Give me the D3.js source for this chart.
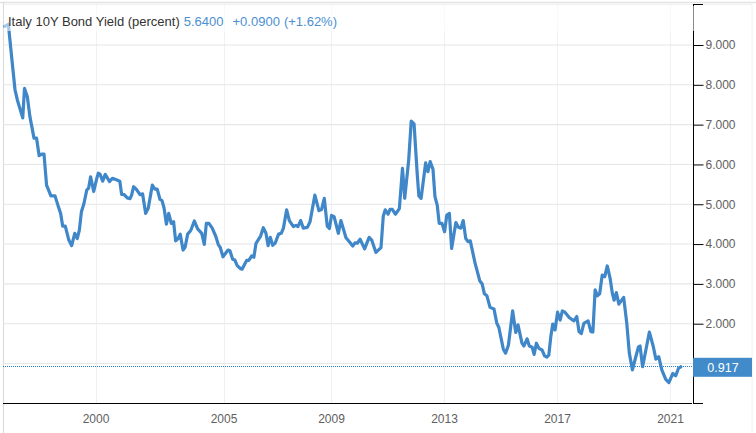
<!DOCTYPE html>
<html>
<head>
<meta charset="utf-8">
<script src="https://d3js.org/d3.v7.min.js"></script>
<style>
    html, body { margin: 0; padding: 0; background: #fff; }
    svg { display: block; font-family: "Liberation Sans", Arial, sans-serif; }
</style>
</head>
<body>
<div id="chart"></div>
<script>
const yearTicks = [2000, 2005, 2009, 2013, 2017, 2021]
const yieldTicks = [1, 2, 3, 4, 5, 6, 7, 8, 9]
const lastValue = 0.917

// the time axis is not even, so scale breaks sit on the labelled years
const xBreaks = [1996.39, 2000, 2005, 2009, 2013, 2017, 2021, 2021.81]
const xBreakPx = [3, 95.5, 223.5, 331, 444, 557, 670, 693]

const years = [
    1996.46, 1996.60, 1996.66, 1996.74, 1996.86, 1996.95, 1997.16, 1997.23, 1997.34, 1997.44, 1997.60, 1997.70, 1997.80, 1997.90, 1997.99,
    1998.09, 1998.26, 1998.42, 1998.55, 1998.64, 1998.72, 1998.82, 1998.96, 1999.07, 1999.19, 1999.29, 1999.37, 1999.45, 1999.55, 1999.66, 1999.73, 1999.81, 1999.93,
    2000.05, 2000.11, 2000.18, 2000.28, 2000.38, 2000.55, 2000.66, 2000.79, 2000.95,
    2001.02, 2001.12, 2001.24, 2001.35, 2001.41, 2001.49, 2001.59, 2001.74, 2001.84, 2001.96,
    2002.06, 2002.22, 2002.32, 2002.41, 2002.52, 2002.60, 2002.68, 2002.77, 2002.86, 2002.96,
    2003.05, 2003.13, 2003.23, 2003.31, 2003.42, 2003.50, 2003.60, 2003.72, 2003.86, 2003.99,
    2004.15, 2004.25, 2004.33, 2004.43, 2004.56, 2004.70, 2004.80, 2004.87, 2004.98,
    2005.17, 2005.24, 2005.34, 2005.42, 2005.51, 2005.64, 2005.69, 2005.86, 2005.94,
    2006.05, 2006.13, 2006.21, 2006.38, 2006.48, 2006.58, 2006.66, 2006.74, 2006.83, 2006.92,
    2007.05, 2007.15, 2007.23, 2007.35, 2007.45, 2007.60, 2007.70, 2007.77, 2007.87, 2007.97,
    2008.12, 2008.22, 2008.40, 2008.55, 2008.65, 2008.75, 2008.86, 2008.94,
    2009.02, 2009.11, 2009.26, 2009.35, 2009.53, 2009.65, 2009.77, 2009.85, 2009.93,
    2010.03, 2010.19, 2010.35, 2010.44, 2010.59, 2010.77, 2010.85, 2010.92,
    2011.02, 2011.09, 2011.17, 2011.28, 2011.42, 2011.53, 2011.61, 2011.75, 2011.84, 2011.94,
    2012.05, 2012.11, 2012.19, 2012.35, 2012.43, 2012.51, 2012.61, 2012.68, 2012.76, 2012.83, 2012.93,
    2013.02, 2013.10, 2013.19, 2013.27, 2013.42, 2013.51, 2013.60, 2013.68, 2013.77, 2013.85, 2013.93,
    2014.10, 2014.27, 2014.35, 2014.43, 2014.52, 2014.63, 2014.77, 2014.87, 2014.94,
    2015.10, 2015.18, 2015.28, 2015.43, 2015.54, 2015.62, 2015.76, 2015.83, 2015.94,
    2016.02, 2016.12, 2016.19, 2016.27, 2016.36, 2016.47, 2016.56, 2016.64, 2016.71, 2016.78, 2016.85, 2016.93,
    2017.02, 2017.11, 2017.19, 2017.28, 2017.44, 2017.60, 2017.70, 2017.78, 2017.86, 2017.95,
    2018.10, 2018.20, 2018.27, 2018.35, 2018.43, 2018.51, 2018.60, 2018.69, 2018.78, 2018.88, 2018.96,
    2019.02, 2019.10, 2019.19, 2019.36, 2019.47, 2019.56, 2019.67, 2019.79, 2019.88, 2019.94,
    2020.03, 2020.27, 2020.41, 2020.50, 2020.60, 2020.71, 2020.85, 2020.96,
    2021.10, 2021.20, 2021.30, 2021.38
]

const yields = [
    9.47, 9.52, 9.13, 8.62, 7.87, 7.62, 7.17, 7.91, 7.70, 7.20, 6.66, 6.66, 6.22, 6.26, 6.26,
    5.48, 5.21, 5.21, 4.94, 4.77, 4.45, 4.45, 4.10, 3.96, 4.27, 4.14, 4.35, 4.81, 5.02, 5.36, 5.40, 5.69, 5.32,
    5.65, 5.78, 5.75, 5.58, 5.75, 5.57, 5.65, 5.62, 5.58,
    5.25, 5.24, 5.16, 5.14, 5.23, 5.44, 5.38, 5.24, 5.26, 4.77,
    4.90, 5.48, 5.38, 5.38, 5.12, 5.09, 4.90, 4.50, 4.77, 4.52,
    4.56, 4.08, 4.14, 4.25, 3.85, 3.92, 4.25, 4.34, 4.58, 4.38,
    4.27, 3.99, 4.52, 4.52, 4.40, 4.19, 3.98, 3.92, 3.68,
    3.85, 3.83, 3.62, 3.60, 3.46, 3.38, 3.37, 3.59, 3.59,
    3.70, 3.67, 4.02, 4.20, 4.41, 4.27, 3.96, 4.17, 3.97, 4.02,
    4.25, 4.27, 4.40, 4.86, 4.59, 4.44, 4.47, 4.44, 4.59, 4.40,
    4.42, 4.56, 5.23, 4.84, 4.87, 5.15, 4.45, 4.39,
    4.72, 4.69, 4.27, 4.59, 4.16, 4.06, 3.95, 4.03, 4.02,
    4.12, 3.88, 4.17, 4.10, 3.79, 3.91, 4.70, 4.86,
    4.75, 4.87, 4.87, 4.75, 4.89, 5.90, 5.15, 6.11, 7.09, 7.02,
    5.78, 5.21, 5.15, 6.04, 5.82, 6.07, 5.88, 5.19, 4.98, 4.52, 4.52,
    4.31, 4.73, 4.77, 3.89, 4.54, 4.42, 4.40, 4.59, 4.14, 4.06, 4.08,
    3.52, 3.07, 3.00, 2.75, 2.70, 2.41, 2.37, 2.01, 1.91,
    1.36, 1.26, 1.46, 2.32, 1.78, 1.97, 1.51, 1.44, 1.62,
    1.44, 1.41, 1.23, 1.51, 1.38, 1.34, 1.19, 1.16, 1.21, 1.67, 1.99, 1.84,
    2.29, 2.09, 2.32, 2.29, 2.15, 2.07, 2.18, 1.80, 1.75, 2.01,
    2.07, 1.80, 1.79, 2.85, 2.70, 2.75, 3.22, 3.18, 3.45, 3.14, 2.76,
    2.59, 2.78, 2.49, 2.66, 2.01, 1.26, 0.84, 1.17, 1.41, 1.44,
    0.92, 1.79, 1.42, 1.11, 1.17, 0.84, 0.60, 0.52,
    0.75, 0.69, 0.88, 0.917
]

const w = 756;
const h = 433;
const left = 3;
const right = 693;
const top_ = 4.5;
const bottom = 403.5;

const blue = '#3f87c9';
const labelGrey = '#606060';

const svg = d3.select('#chart')
              .append('svg')
              .attr('width', w)
              .attr('height', h);

const xScale = d3.scaleLinear()
                 .domain(xBreaks)
                 .range(xBreakPx);

// 9 sits at 45 and 1 at 363.5
const yScale = d3.scaleLinear()
                 .domain([1, 9])
                 .range([363.5, 45]);

// frame
svg.append('line').attr('x1', 0).attr('x2', w).attr('y1', 2.5).attr('y2', 2.5).attr('stroke', '#e2e2e2').attr('stroke-width', 1.5);
svg.append('line').attr('x1', left).attr('x2', w - 4).attr('y1', top_).attr('y2', top_).attr('stroke', '#f0f0f0');
svg.append('line').attr('x1', left + .5).attr('x2', left + .5).attr('y1', 2).attr('y2', h).attr('stroke', '#dcdcdc').attr('stroke-width', 1.2);
svg.append('line').attr('x1', w - 4).attr('x2', w - 4).attr('y1', 2).attr('y2', h).attr('stroke', '#f0f0f0');

// gridlines
svg.append('g')
   .selectAll('line')
   .data(yearTicks)
   .enter()
   .append('line')
   .attr('x1', d => Math.round(xScale(d)) + .5)
   .attr('x2', d => Math.round(xScale(d)) + .5)
   .attr('y1', top_)
   .attr('y2', bottom)
   .attr('stroke', '#eef1f5');

svg.append('g')
   .selectAll('line')
   .data(yieldTicks)
   .enter()
   .append('line')
   .attr('x1', left)
   .attr('x2', right)
   .attr('y1', d => yScale(d))
   .attr('y2', d => yScale(d))
   .attr('stroke', '#e6e6e6')
   .attr('stroke-width', 1.1);

// last value marker, snapped so the dots stay crisp
const lastY = Math.round(yScale(lastValue)) - .5;

svg.append('line')
   .attr('x1', left)
   .attr('x2', right)
   .attr('y1', lastY)
   .attr('y2', lastY)
   .attr('stroke', '#2a80cc')
   .attr('stroke-dasharray', '1 1');

const line = d3.line()
               .x((d, i) => xScale(years[i]))
               .y(d => yScale(d))
               .curve(d3.curveLinear);

svg.append('path')
   .datum(yields)
   .attr('d', line)
   .attr('fill', 'none')
   .attr('stroke', blue)
   .attr('stroke-width', 3.2)
   .attr('stroke-linejoin', 'round')
   .attr('stroke-linecap', 'round');

// axes
const xAxis = d3.axisBottom(xScale)
                .tickValues(yearTicks)
                .tickFormat(d => d)
                .tickSize(0)
                .tickPadding(11);

// the 1.000 label is hidden behind the last value tag in the original
const yAxis = d3.axisRight(yScale)
                .tickValues(yieldTicks)
                .tickFormat(d => d === 1 ? '' : d3.format('.3f')(d))
                .tickSize(10)
                .tickPadding(2);

const xG = svg.append('g')
              .attr('transform', `translate(0, ${bottom})`)
              .call(xAxis);
xG.select('.domain').remove();
xG.selectAll('text').attr('fill', labelGrey).attr('font-size', 12).attr('font-family', 'inherit');

svg.append('line').attr('x1', left).attr('x2', right - 1).attr('y1', bottom).attr('y2', bottom).attr('stroke', '#000').attr('stroke-width', 1.2);

const yG = svg.append('g')
              .attr('transform', `translate(${right + .5}, 0)`)
              .call(yAxis);
yG.select('.domain').remove();
yG.selectAll('line').attr('stroke', '#000');
yG.selectAll('text').attr('fill', labelGrey).attr('font-size', 12).attr('font-family', 'inherit');

svg.append('line').attr('x1', right + .5).attr('x2', right + .5).attr('y1', top_).attr('y2', bottom).attr('stroke', '#000');
svg.append('line').attr('x1', right).attr('x2', right + 10).attr('y1', top_).attr('y2', top_).attr('stroke', '#000');
svg.append('line').attr('x1', right).attr('x2', right + 10).attr('y1', bottom).attr('y2', bottom).attr('stroke', '#000');

// the title box washes out what is under it
svg.append('rect')
   .attr('x', left + 1)
   .attr('y', 6)
   .attr('width', right - left + 2)
   .attr('height', 25)
   .attr('fill', '#fff')
   .attr('opacity', .55);

const title = svg.append('text')
                 .attr('x', 8)
                 .attr('y', 26)
                 .attr('font-size', 13);
title.append('tspan').attr('fill', '#333').text('Italy 10Y Bond Yield (percent)');
title.append('tspan').attr('fill', '#4a90d2').attr('dx', 4).text('5.6400');
title.append('tspan').attr('fill', '#4a90d2').attr('dx', 9).text('+0.0900');
title.append('tspan').attr('fill', '#4a90d2').attr('dx', 4).text('(+1.62%)');

// last value tag
svg.append('rect')
   .attr('x', right)
   .attr('y', yScale(lastValue) - 9)
   .attr('width', 59)
   .attr('height', 19)
   .attr('fill', '#428bca');

svg.append('text')
   .attr('x', 723)
   .attr('y', yScale(lastValue) + 5)
   .attr('text-anchor', 'middle')
   .attr('font-size', 12.5)
   .attr('fill', '#fff')
   .text(d3.format('.3f')(lastValue));
</script>
</body>
</html>
